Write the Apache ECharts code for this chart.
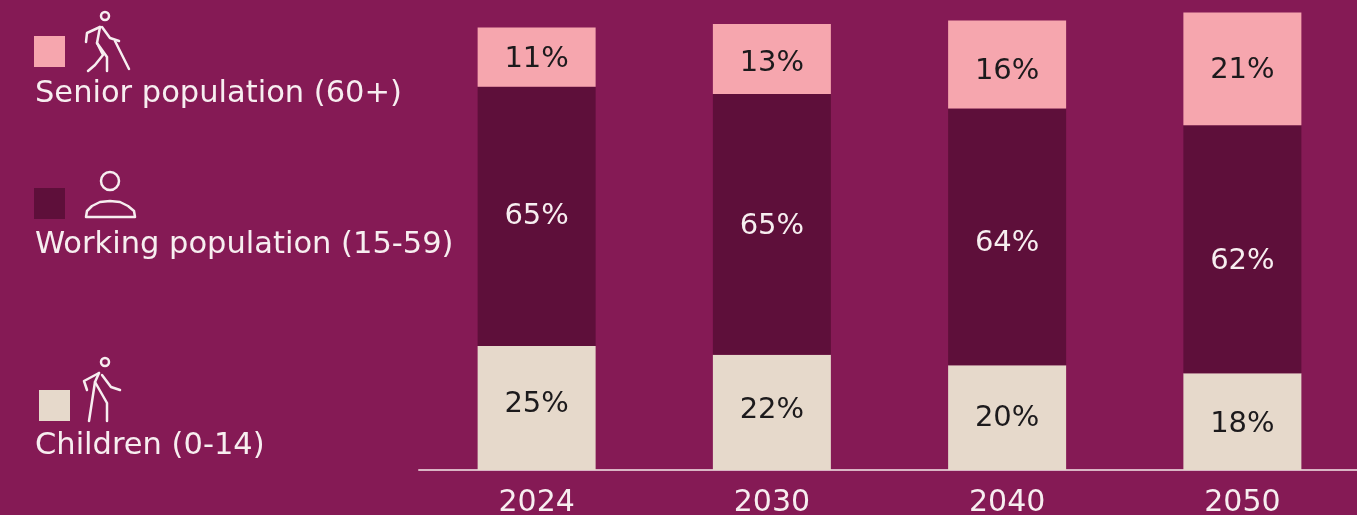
<!DOCTYPE html>
<html>
<head>
<meta charset="utf-8">
<title>Population by age group</title>
<script src="https://cdn.jsdelivr.net/npm/echarts@6/dist/echarts.min.js"></script>
<style>
  html, body { margin: 0; padding: 0; background: #851a55; }
  #main { width: 1357px; height: 515px; }
</style>
</head>
<body>
<div id="main"></div>
<script>
const years = ['2024', '2030', '2040', '2050'];

// the source bars are not drawn to scale with their printed labels,
// so bar lengths (as measured) and label texts are kept apart
const childrenBars = [31, 28.8, 26.2, 24.2];
const workingBars = [64.8, 65.2, 64.2, 62];
const seniorBars = [14.8, 17.5, 22, 28.2];

const childrenLabels = ['25%', '22%', '20%', '18%'];
const workingLabels = ['65%', '65%', '64%', '62%'];
const seniorLabels = ['11%', '13%', '16%', '21%'];

// vertical nudge of each label inside its bar
const childrenShift = [-4, -2, 1, 3];
const workingShift = [0, 2, 7, 12];
const seniorShift = [2, 4, 7, 2];

const myChart = echarts.init(document.getElementById('main'));

const fontName = 'DejaVu Sans';
const white = '#f7eef0';

function makeSeries(name, bars, labels, shift, color, labelColor) {
  return {
    name: name,
    type: 'bar',
    stack: 'total',
    barWidth: 118,
    itemStyle: { color: color },
    label: {
      show: true,
      position: 'inside',
      fontFamily: fontName,
      fontSize: 29,
      color: labelColor,
      formatter: function (p) { return labels[p.dataIndex]; }
    },
    data: bars.map(function (v, i) {
      return { value: v, label: { offset: [0, shift[i]] } };
    })
  };
}

function legendText(text, y) {
  return {
    type: 'text', x: 35, y: y,
    style: { text: text, fill: white, font: '400 30.5px "' + fontName + '"' }
  };
}

function legendBox(x, y, color) {
  return {
    type: 'rect',
    shape: { x: x, y: y, width: 31, height: 31 },
    style: { fill: color }
  };
}

function stroke(points) {
  return {
    type: 'polyline',
    shape: { points: points },
    style: { fill: null, stroke: white, lineWidth: 2.5, lineJoin: 'round', lineCap: 'round' }
  };
}

function head(x, y, r) {
  return {
    type: 'circle',
    shape: { cx: x, cy: y, r: r },
    style: { fill: 'none', stroke: white, lineWidth: 2.5 }
  };
}

const option = {
  backgroundColor: '#851a55',
  animation: false,
  grid: { left: 419, top: 0, bottom: 45, width: 941, outerBoundsMode: 'none' },
  xAxis: {
    type: 'category',
    data: years,
    axisTick: { show: false },
    axisLine: { lineStyle: { color: '#d9b5c4', width: 2 } },
    axisLabel: { color: white, fontFamily: fontName, fontSize: 30, margin: 18 }
  },
  yAxis: { type: 'value', min: 0, max: 117.5, show: false },
  series: [
    makeSeries('Children (0-14)', childrenBars, childrenLabels, childrenShift, '#e6d9cb', '#1c1a1c'),
    makeSeries('Working population (15-59)', workingBars, workingLabels, workingShift, '#5e0f3a', white),
    makeSeries('Senior population (60+)', seniorBars, seniorLabels, seniorShift, '#f6a6ae', '#1c1a1c')
  ],
  graphic: [
    legendBox(34, 36, '#f6a6ae'),
    legendBox(34, 188, '#5e0f3a'),
    legendBox(39, 390, '#e6d9cb'),
    legendText('Senior population (60+)', 79),
    legendText('Working population (15-59)', 230),
    legendText('Children (0-14)', 431),

    // walking stick figure
    head(105, 16, 4),
    stroke([[100, 27], [87, 33], [86, 42]]),
    stroke([[102, 27], [110, 38], [119, 41]]),
    stroke([[115, 41], [129, 69]]),
    stroke([[100, 27], [97, 43], [107, 57], [107, 71]]),
    stroke([[97, 43], [103, 55], [95, 65], [88, 71]]),

    // adult figure
    head(110, 181, 9),
    stroke([[86, 217], [87, 211], [92, 206], [100, 202], [110, 201], [120, 202], [128, 206], [134, 211], [135, 217], [86, 217]]),

    // child figure
    head(105, 362, 4),
    stroke([[99, 373], [84, 381], [87, 390]]),
    stroke([[102, 375], [111, 387], [120, 390]]),
    stroke([[99, 373], [95, 382], [89, 421]]),
    stroke([[95, 382], [107, 403], [107, 421]])
  ]
};

myChart.setOption(option);
</script>
</body>
</html>
